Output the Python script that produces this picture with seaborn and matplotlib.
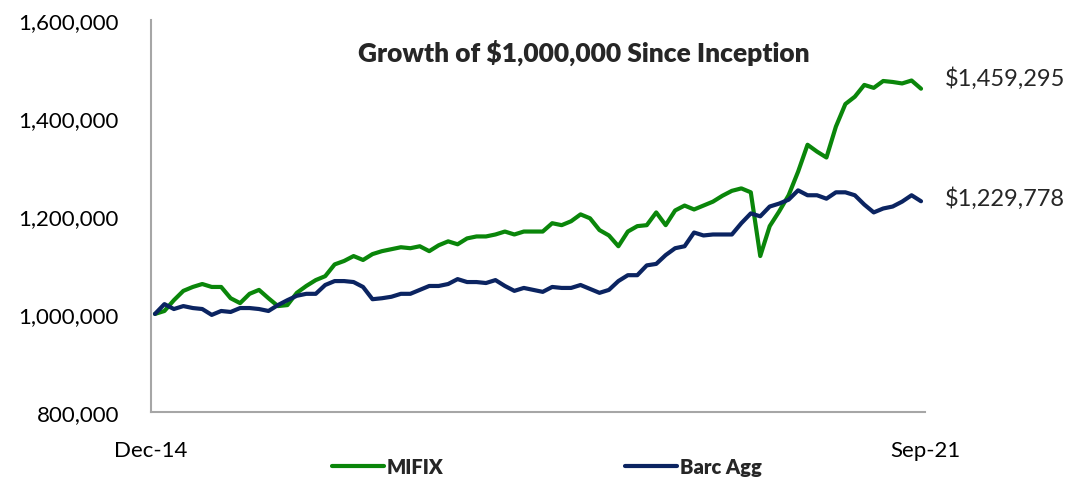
import matplotlib
matplotlib.use("Agg")
import matplotlib.pyplot as plt
import seaborn as sns
import pandas as pd
import numpy as np

# monthly growth of $1,000,000, Dec-14 .. Sep-21 (82 month ends)
mifix = [1000000, 1006000, 1028000, 1047000, 1055000, 1061000, 1055000, 1055000,
         1032000, 1022000, 1041000, 1049000, 1032000, 1016000, 1018000, 1043000,
         1057000, 1069000, 1077000, 1101000, 1108000, 1118000, 1110000, 1122000,
         1128000, 1132000, 1136000, 1134000, 1138000, 1128000, 1140000, 1148000,
         1142000, 1154000, 1158000, 1158000, 1162000, 1168000, 1162000, 1168000,
         1168000, 1168000, 1185000, 1181000, 1189000, 1203000, 1195000, 1171000,
         1160000, 1138000, 1168000, 1179000, 1181000, 1207000, 1181000, 1211000,
         1221000, 1213000, 1221000, 1229000, 1241000, 1251000, 1256000, 1248000,
         1118000, 1179000, 1209000, 1242000, 1290000, 1345000, 1331000, 1319000,
         1382000, 1428000, 1443000, 1467000, 1461000, 1475000, 1473000, 1470000,
         1476000, 1459295]
barc_agg = [1000000, 1020000, 1010000, 1016000, 1012000, 1010000, 998000, 1006000,
            1004000, 1012000, 1012000, 1010000, 1006000, 1018000, 1028000, 1037000,
            1041000, 1041000, 1059000, 1067000, 1067000, 1065000, 1055000, 1030000,
            1032000, 1035000, 1041000, 1041000, 1049000, 1057000, 1057000, 1061000,
            1071000, 1065000, 1065000, 1063000, 1069000, 1057000, 1047000, 1053000,
            1049000, 1045000, 1055000, 1053000, 1053000, 1059000, 1051000, 1043000,
            1049000, 1067000, 1079000, 1079000, 1099000, 1102000, 1120000, 1134000,
            1138000, 1166000, 1160000, 1162000, 1162000, 1162000, 1185000, 1205000,
            1199000, 1219000, 1225000, 1233000, 1252000, 1242000, 1242000, 1235000,
            1248000, 1248000, 1242000, 1223000, 1207000, 1215000, 1219000, 1229000,
            1242000, 1229778]
series_names = ["MIFIX", "Barc Agg"]
end_labels = ["$1,459,295", "$1,229,778"]
x_tick_labels = ["Dec-14", "Sep-21"]
y_ticks = [800000, 1000000, 1200000, 1400000, 1600000]
title = "Growth of $1,000,000 Since Inception"

months = np.arange(len(mifix))
df = pd.DataFrame({
    "month": np.concatenate([months, months]),
    "value": mifix + barc_agg,
    "series": [series_names[0]] * len(mifix) + [series_names[1]] * len(barc_agg),
})

sns.set_style("white")
plt.rcParams["font.family"] = ["Lato", "DejaVu Sans"]

colors = {"MIFIX": "#0A860A", "Barc Agg": "#0B2461"}

fig = plt.figure(figsize=(10.76, 4.81), dpi=100)
ax = fig.add_axes([151 / 1076, 1 - 413 / 481, (925 - 151) / 1076, (413 - 20.7) / 481])

sns.lineplot(data=df, x="month", y="value", hue="series", palette=colors,
             linewidth=3.0, ax=ax, legend=False)

pad = 0.42
ax.set_xlim(-pad, months[-1] + pad)
ax.set_ylim(800000, 1600000)
ax.set_xticks([-pad, months[-1] + pad])
ax.set_xticklabels(x_tick_labels)
ax.set_yticks(y_ticks)
ax.set_yticklabels([f"{v:,.0f}" for v in y_ticks])
ax.set_xlabel("")
ax.set_ylabel("")

for s in ["top", "right"]:
    ax.spines[s].set_visible(False)
for s in ["left", "bottom"]:
    ax.spines[s].set_color("#A6A6A6")
    ax.spines[s].set_linewidth(1.5)
ax.tick_params(axis="both", colors="#A6A6A6", length=5, width=1.2, labelcolor="black",
               labelsize=16, direction="out")
ax.tick_params(axis="x", pad=15)
ax.tick_params(axis="y", pad=18)

ax.text(0.559, 0.918, title.replace("$", r"\$"), transform=ax.transAxes, ha="center",
        va="center", fontsize=19, fontweight="heavy")

offsets = [(17, 8), (17, 3)]
for vals, lab, off in zip([mifix, barc_agg], end_labels, offsets):
    ax.annotate(lab.replace("$", r"\$"), xy=(months[-1], vals[-1]), xytext=off,
                textcoords="offset points", ha="left", va="center", fontsize=17,
                annotation_clip=False)

handles = [plt.Line2D([], [], color=colors[n], linewidth=3.0) for n in series_names]
fig.legend(handles, series_names, loc="center", bbox_to_anchor=(547 / 1076, 1 - 468 / 481),
           ncol=2, frameon=False, handlelength=2.6, handletextpad=0.15,
           columnspacing=9.0, prop={"weight": "heavy", "size": 14.5})

fig.savefig("out.png", dpi=100)
